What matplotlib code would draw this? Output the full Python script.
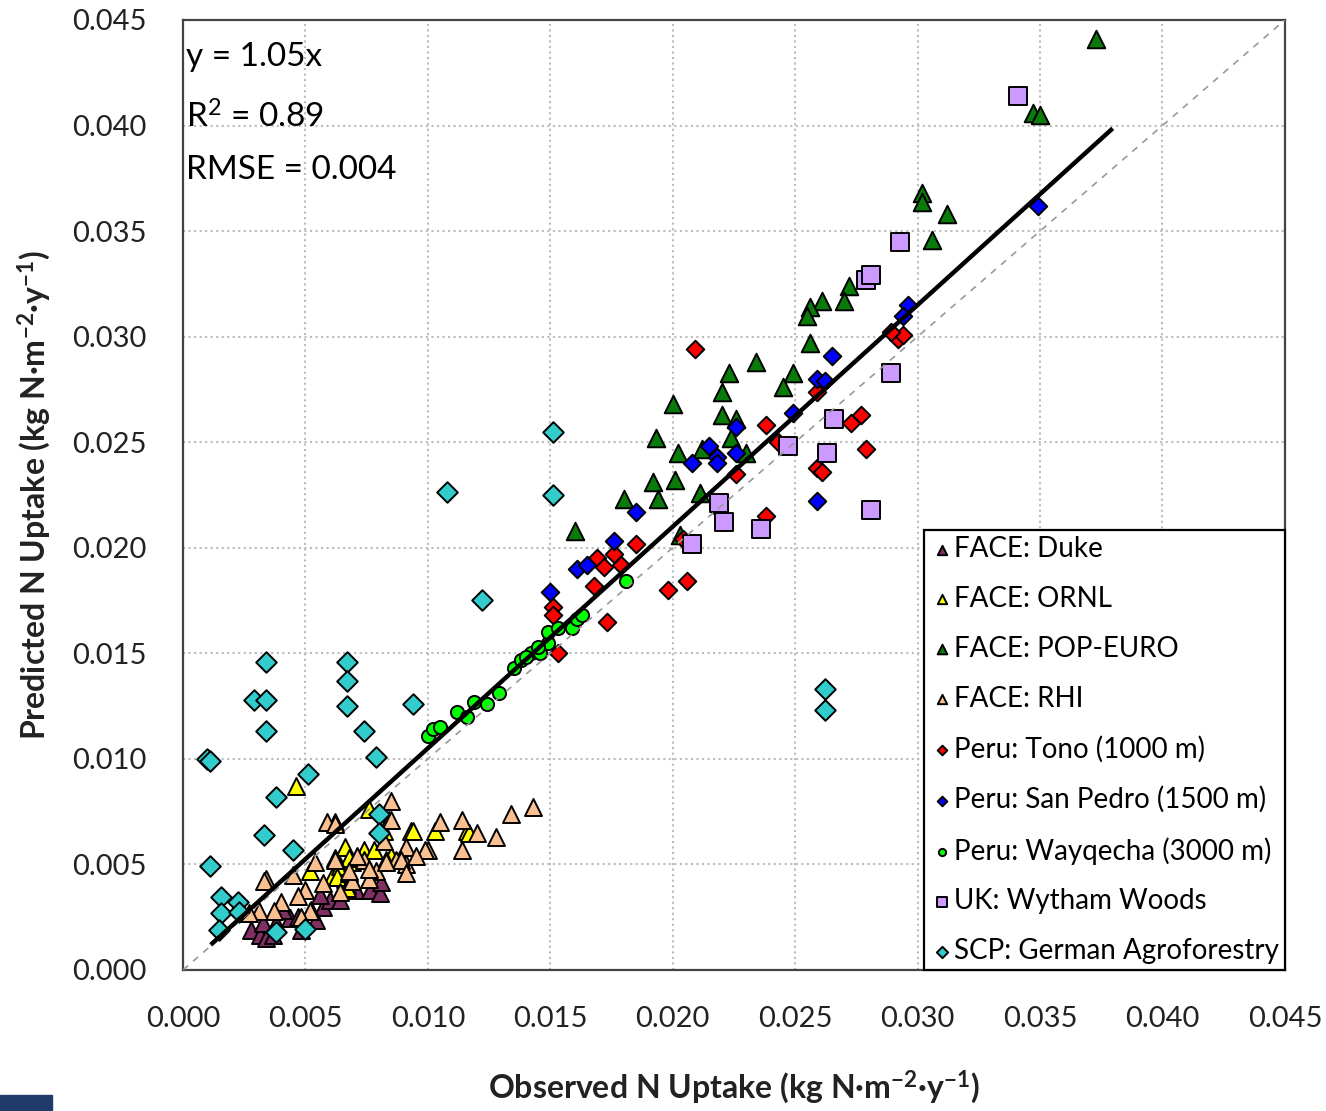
import numpy as np
import matplotlib.pyplot as plt
from matplotlib.patches import Rectangle

plt.rcParams['font.family'] = ['Lato', 'DejaVu Sans']
plt.rcParams['mathtext.default'] = 'regular'

# FACE: Duke
duke_x = [0.00278, 0.00314, 0.00339, 0.00368, 0.00437, 0.0047, 0.00543, 0.00572, 0.0060, 0.00641,
          0.0056, 0.00706, 0.00764, 0.00804, 0.00809, 0.00523, 0.00408, 0.00327, 0.0038, 0.0066, 0.0048]
duke_y = [0.00189, 0.00166, 0.00152, 0.00166, 0.00246, 0.00251, 0.00237, 0.00298, 0.00332, 0.00332,
          0.00355, 0.00379, 0.00379, 0.00365, 0.00417, 0.00284, 0.00284, 0.00223, 0.00223, 0.0043, 0.0019]

# FACE: ORNL
ornl_x = [0.0046, 0.0076, 0.0082, 0.0093, 0.0066, 0.0074, 0.0078, 0.0085, 0.0052, 0.0061, 0.0067,
          0.0064, 0.0069, 0.0103, 0.0094, 0.0116, 0.0117, 0.0068, 0.0083, 0.0063, 0.0067]
ornl_y = [0.0087, 0.0076, 0.0066, 0.0066, 0.0058, 0.0057, 0.0057, 0.0054, 0.0047, 0.0044, 0.0040,
          0.0049, 0.0051, 0.0066, 0.0066, 0.0066, 0.0065, 0.0053, 0.0052, 0.0044, 0.0039]

# FACE: POP-EURO
pop_x = [0.0373, 0.0347, 0.0350, 0.0302, 0.0302, 0.0312, 0.0306, 0.0272, 0.0261, 0.0256, 0.0255,
         0.0270, 0.0256, 0.0234, 0.0249, 0.0245, 0.0223, 0.0220, 0.0200, 0.0220, 0.0226, 0.0193,
         0.0202, 0.0212, 0.0224, 0.0230, 0.0192, 0.0201, 0.0180, 0.0194, 0.0211, 0.0160, 0.0203]
pop_y = [0.0441, 0.0406, 0.0405, 0.0368, 0.0364, 0.0358, 0.0346, 0.0324, 0.0317, 0.0314, 0.0310,
         0.0317, 0.0297, 0.0288, 0.0283, 0.0276, 0.0283, 0.0274, 0.0268, 0.0263, 0.0261, 0.0252,
         0.0245, 0.0247, 0.0252, 0.0245, 0.0231, 0.0232, 0.0223, 0.0223, 0.0226, 0.0208, 0.0206]

# FACE: RHI
rhi_x = [0.0085, 0.0105, 0.0114, 0.0134, 0.0143, 0.0120, 0.0128, 0.0114, 0.0084, 0.0100, 0.0091,
         0.0091, 0.0062, 0.0082, 0.0074, 0.0079, 0.0068, 0.0062, 0.0087, 0.0059, 0.0062, 0.0085,
         0.0099, 0.0095, 0.0089, 0.0034, 0.0033, 0.0045, 0.0054, 0.0062, 0.0071, 0.0057, 0.0050,
         0.0047, 0.0040, 0.0037, 0.0031, 0.0052, 0.0048, 0.0076, 0.0069, 0.0083, 0.0076, 0.0091,
         0.0068, 0.0027, 0.0064]
rhi_y = [0.0080, 0.0070, 0.0071, 0.0074, 0.0077, 0.0065, 0.0063, 0.0057, 0.0071, 0.0057, 0.0058,
         0.0050, 0.0070, 0.0061, 0.0052, 0.0047, 0.0046, 0.0053, 0.0052, 0.0070, 0.0069, 0.0071,
         0.0057, 0.0054, 0.0052, 0.0043, 0.0042, 0.0045, 0.0051, 0.0052, 0.0054, 0.0041, 0.0038,
         0.0035, 0.0032, 0.0028, 0.0028, 0.0028, 0.0025, 0.0043, 0.0042, 0.0051, 0.0048, 0.0046,
         0.0047, 0.0027, 0.0037]

# Peru: Tono (1000 m)
tono_x = [0.0185, 0.0169, 0.0172, 0.0176, 0.0179, 0.0168, 0.0151, 0.0151, 0.0173, 0.0153, 0.0209,
          0.0238, 0.0243, 0.0259, 0.0273, 0.0277, 0.0279, 0.0259, 0.0261, 0.0226, 0.0204, 0.0238,
          0.0219, 0.0206, 0.0198, 0.0292, 0.0294, 0.0289]
tono_y = [0.0202, 0.0195, 0.0191, 0.0197, 0.0192, 0.0182, 0.0172, 0.0168, 0.0165, 0.0150, 0.0294,
          0.0258, 0.0250, 0.0274, 0.0259, 0.0263, 0.0247, 0.0238, 0.0236, 0.0235, 0.0204, 0.0215,
          0.0218, 0.0184, 0.0180, 0.0299, 0.0301, 0.0302]

# Peru: San Pedro (1500 m)
sanp_x = [0.0265, 0.0259, 0.0262, 0.0249, 0.0226, 0.0215, 0.0218, 0.0218, 0.0226, 0.0208, 0.0185,
          0.0176, 0.0161, 0.0165, 0.0150, 0.0259, 0.0349, 0.0296, 0.0294]
sanp_y = [0.0291, 0.0280, 0.0279, 0.0264, 0.0257, 0.0248, 0.0243, 0.0240, 0.0245, 0.0240, 0.0217,
          0.0203, 0.0190, 0.0192, 0.0179, 0.0222, 0.0362, 0.0315, 0.0310]

# Peru: Wayqecha (3000 m)
wayq_x = [0.0100, 0.0102, 0.0105, 0.0112, 0.0116, 0.0119, 0.0124, 0.0129, 0.0135, 0.0138, 0.0142,
          0.0146, 0.0149, 0.0149, 0.0153, 0.0159, 0.0161, 0.0163, 0.0181, 0.0140, 0.0145]
wayq_y = [0.0111, 0.0114, 0.0115, 0.0122, 0.0120, 0.0127, 0.0126, 0.0131, 0.0143, 0.0147, 0.0150,
          0.0150, 0.0155, 0.0160, 0.0162, 0.0162, 0.0166, 0.0168, 0.0184, 0.0148, 0.0153]

# UK: Wytham Woods
wyth_x = [0.0341, 0.0293, 0.0279, 0.0281, 0.0289, 0.0266, 0.0263, 0.0247, 0.0281, 0.0236, 0.0219,
          0.0221, 0.0208]
wyth_y = [0.0414, 0.0345, 0.0327, 0.0329, 0.0283, 0.0261, 0.0245, 0.0248, 0.0218, 0.0209, 0.0221,
          0.0212, 0.0202]

# SCP: German Agroforestry
scp_x = [0.0010, 0.0011, 0.0034, 0.0029, 0.0034, 0.0034, 0.0067, 0.0067, 0.0067, 0.0074, 0.0094,
         0.0079, 0.0051, 0.0038, 0.0033, 0.0045, 0.0080, 0.0080, 0.0011, 0.00155, 0.00225, 0.00155,
         0.0023, 0.00147, 0.0038, 0.0050, 0.0108, 0.0151, 0.0151, 0.0122, 0.0262, 0.0262]
scp_y = [0.0100, 0.0099, 0.0146, 0.0128, 0.0128, 0.0113, 0.0146, 0.0137, 0.0125, 0.0113, 0.0126,
         0.0101, 0.0093, 0.0082, 0.0064, 0.0057, 0.0074, 0.0065, 0.0049, 0.00346, 0.00322, 0.0027,
         0.00275, 0.0019, 0.0018, 0.00194, 0.02264, 0.0255, 0.0225, 0.0175, 0.0133, 0.0123]

slope = 1.05
fit_x = [0.0012, 0.0379]
ticks = np.arange(0, 0.0451, 0.005)

fig = plt.figure(figsize=(13.26, 11.11), dpi=100)
ax = fig.add_axes([0.138, 0.127, 0.831, 0.855])

series = [
    (duke_x, duke_y, '^', '#7F2F62', 'FACE: Duke', 150),
    (ornl_x, ornl_y, '^', '#FFFF00', 'FACE: ORNL', 150),
    (pop_x, pop_y, '^', '#0A7A0A', 'FACE: POP-EURO', 160),
    (rhi_x, rhi_y, '^', '#FAC090', 'FACE: RHI', 150),
    (tono_x, tono_y, 'D', '#FF0000', 'Peru: Tono (1000 m)', 80),
    (sanp_x, sanp_y, 'D', '#0000FF', 'Peru: San Pedro (1500 m)', 80),
    (wayq_x, wayq_y, 'o', '#00FF00', 'Peru: Wayqecha (3000 m)', 90),
    (wyth_x, wyth_y, 's', '#CC99FF', 'UK: Wytham Woods', 150),
    (scp_x, scp_y, 'D', '#33CCCC', 'SCP: German Agroforestry', 110),
]
for xs, ys, m, c, lab, s in series:
    ax.scatter(xs, ys, marker=m, s=s, c=c, edgecolors='black', linewidths=1.4, label=lab, zorder=3)

ax.plot([0, 0.045], [0, 0.045], color='#999999', ls=(0, (4, 4)), lw=1.2, zorder=4)
ax.plot(fit_x, [slope * v for v in fit_x], color='black', lw=3.2, zorder=5)

ax.set_xlim(0, 0.045)
ax.set_ylim(0, 0.045)
ax.set_xticks(ticks)
ax.set_yticks(ticks)
ax.set_xticklabels([f'{t:.3f}' for t in ticks])
ax.set_yticklabels([f'{t:.3f}' for t in ticks])
ax.tick_params(axis='x', length=0, labelsize=21, pad=26, colors='#222222')
ax.tick_params(axis='y', length=0, labelsize=21, pad=26, colors='#222222')
ax.grid(True, color='#bbbbbb', ls=':', lw=1.5)
ax.set_axisbelow(True)
for sp in ax.spines.values():
    sp.set_color('#444444')
    sp.set_linewidth(1.6)

ax.set_xlabel('Observed N Uptake (kg N·m$^{-2}$·y$^{-1}$)', fontsize=23,
              fontweight='bold', labelpad=26, color='#222222')
ax.set_ylabel('Predicted N Uptake (kg N·m$^{-2}$·y$^{-1}$)', fontsize=23,
              fontweight='bold', labelpad=14, color='#222222')

ax.text(0.003, 0.961, 'y = 1.05x', transform=ax.transAxes, fontsize=24, va='center')
ax.text(0.003, 0.898, 'R$^2$ = 0.89', transform=ax.transAxes, fontsize=24, va='center')
ax.text(0.003, 0.842, 'RMSE = 0.004', transform=ax.transAxes, fontsize=24, va='center')

leg = ax.legend(loc='lower right', bbox_to_anchor=(1.0, 0.0), borderaxespad=0, fontsize=20,
                frameon=True, fancybox=False, labelspacing=0.86, handletextpad=0.0,
                handlelength=0.9, markerscale=0.55, borderpad=0.2)
leg.get_frame().set_edgecolor('black')
leg.get_frame().set_linewidth(1.6)
leg.get_frame().set_alpha(1)

fig.add_artist(Rectangle((0, 0), 52 / 1326, 16 / 1111, transform=fig.transFigure,
                         color='#1F3A6B'))

fig.savefig('out.png', dpi=100)
